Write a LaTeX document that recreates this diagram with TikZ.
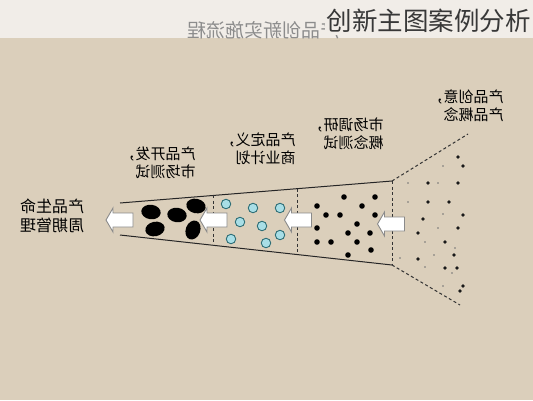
\documentclass[tikz,border=0pt]{standalone}
\usepackage{fontspec}
\usepackage{graphicx}
\setmainfont{Noto Sans CJK SC}
\usetikzlibrary{calc,shapes.geometric}
\definecolor{topbg}{HTML}{F1EDE8}
\definecolor{mainbg}{HTML}{DBCFBB}
\definecolor{cyanfill}{HTML}{A8DEE6}
\definecolor{cyanline}{HTML}{2E6E76}
\definecolor{arrline}{HTML}{8A8A8A}
\newcommand\mirr[1]{\scalebox{-1}[1]{#1}}
\newcommand\twolines[2]{\mirr{\begin{tabular}{@{}l@{}}#1\\#2\end{tabular}}}
\begin{document}
\begin{tikzpicture}[x=1pt,y=-1pt,
  lbl/.style={inner sep=0pt, text=black, font=\fontsize{15}{17.5}\selectfont},
  funnel/.style={draw=black!85, line width=1pt},
  dashline/.style={draw=black!80, line width=1pt, dash pattern=on 3pt off 2.5pt},
  arrowsty/.style={draw=arrline, fill=white, line width=0.9pt, line join=miter},
  larrow/.pic={\draw[arrowsty] (-13.5,0) -- (-6.5,-12) -- (-6.5,-7) -- (13.5,-7) -- (13.5,7) -- (-6.5,7) -- (-6.5,12) -- cycle;},
  oval/.style={ellipse, fill=black, inner sep=0pt, minimum width=19.5pt, minimum height=14.5pt},
  bead/.style={circle, draw=cyanline, fill=cyanfill, line width=0.9pt, inner sep=0pt, minimum size=9.5pt}
]
\useasboundingbox (0,0) rectangle (533,400);
\fill[mainbg] (0,0) rectangle (533,400);
\fill[topbg] (0,0) rectangle (533,38);

% faint mirrored heading and title
\node[inner sep=0pt, text=black!45, font=\fontsize{19}{19}\selectfont] (sub) at (263,30) {\mirr{产品创新实施流程}};
\node[anchor=east, fill=topbg, inner sep=2pt, text=black!78, font=\fontsize{25.5}{25.5}\selectfont] (title) at (533,21) {创新主图案例分析};

% funnel corners
\coordinate (tl) at (120,203);
\coordinate (bl) at (120,235);
\coordinate (tr) at (392,181);
\coordinate (br) at (392,265);
\coordinate (ot) at (468,134);
\coordinate (ob) at (460,305);

\draw[funnel] (tl) -- (tr);
\draw[funnel] (bl) -- (br);
\draw[dashline] ($(tl)!0.342!(tr)$) -- ($(bl)!0.342!(br)$);
\draw[dashline] ($(tl)!0.651!(tr)$) -- ($(bl)!0.651!(br)$);
\draw[dashline] (tr) -- (br);
\draw[dashline] (tr) -- (ot);
\draw[dashline] (br) -- (ob);

% section 1: black ovals
\node[oval, rotate=-8] (o1) at (151,212) {};
\node[oval, rotate=12] (o2) at (155,229) {};
\node[oval, rotate=-8] (o3) at (177,215) {};
\node[oval, rotate=-12] (o4) at (196,206) {};
\node[oval, rotate=70] (o5) at (193,230) {};

% section 2: cyan beads
\node[bead] (c1) at (226,204) {};
\node[bead] (c2) at (253,208) {};
\node[bead] (c3) at (280,208) {};
\node[bead] (c4) at (240,222) {};
\node[bead] (c5) at (262,226) {};
\node[bead] (c6) at (280,235) {};
\node[bead] (c7) at (231,239) {};
\node[bead] (c8) at (266,243) {};

% section 3: black dots
\foreach \p in {(344,197),(375,197),(317,206),(362,206),(326,215),(340,215),(375,215),(357,224),(317,228),(348,233),(370,233),(317,242),(331,242),(357,242),(371,250),(348,255)}
  \fill[black] \p circle (2.8);

% section 4: scattered dots
\foreach \p in {(458,157),(463,166),(428,183),(458,183),(428,202),(449,202),(463,215),(423,219),(458,228),(418,233),(445,242),(454,255),(418,259),(445,268),(457,268),(463,286),(460,291)}
  \fill[black!90] \p circle (1.8);
\foreach \p in {(443,166),(408,183),(438,183),(408,202),(443,214),(438,228),(425,242),(455,248),(434,255),(425,267),(452,273),(400,258),(443,286)}
  \fill[black!55] \p circle (0.9);

% arrows
\pic (a1) at (119.5,220) {larrow};
\pic (a2) at (213.5,220) {larrow};
\pic (a3) at (298,220) {larrow};
\pic (a4) at (391,224) {larrow};

% labels (mirrored as in the reference)
\node[lbl, font=\fontsize{16}{19}\selectfont] (l1) at (52,218) {\twolines{产品生命}{周期管理}};
\node[lbl] (l2) at (158,165) {\twolines{产品开发，}{市场测试}};
\node[lbl] (l3) at (258,151) {\twolines{产品定义，}{商业计划}};
\node[lbl] (l4) at (346,136) {\twolines{市场调研，}{概念测试}};
\node[lbl] (l5) at (466,108) {\twolines{产品创意，}{产品概念}};
\end{tikzpicture}
\end{document}
